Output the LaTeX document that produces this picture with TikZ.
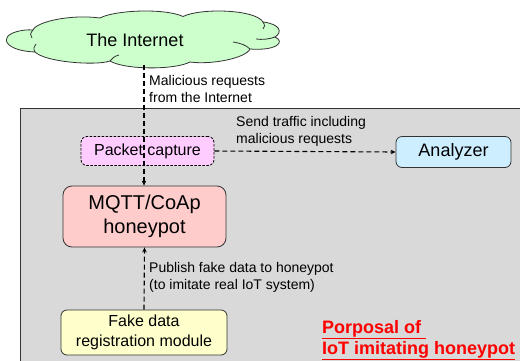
\documentclass[tikz,border=0pt]{standalone}
\usepackage{fontspec}
\setmainfont{Liberation Sans}
\usetikzlibrary{arrows.meta}
\definecolor{cloudgreen}{HTML}{CCFFCC}
\definecolor{areagray}{HTML}{D9D9D9}
\definecolor{capturepink}{HTML}{FFCCFF}
\definecolor{potpink}{HTML}{FFCCCC}
\definecolor{analyzerblue}{HTML}{CCEEFF}
\definecolor{fakeyellow}{HTML}{FFFFCC}
\tikzset{
  box/.style={draw=black!80, line width=0.8pt, rounded corners=6pt, align=center, inner sep=0pt},
  flow/.style={draw=black, line width=1.1pt, dash pattern=on 5pt off 3pt, -{Stealth[length=5pt,width=4.5pt]}},
  note/.style={anchor=west, align=left, font=\fontsize{14}{17}\selectfont, inner sep=0pt},
  cloudline/.style={draw=black!80, line width=0.8pt},
}
\begin{document}
\begin{tikzpicture}[x=1pt,y=-1pt]
\useasboundingbox (0,0) rectangle (520,360);
% proposal area
\draw[fill=areagray, draw=black!80, line width=0.9pt] (20,108) rectangle (530,370);
% internet cloud outline, lobe by lobe
\draw[cloudline, fill=cloudgreen]
  (7,38) .. controls (8,33) and (22,29) .. (33,30)
  .. controls (36,22) and (70,14) .. (100,18)
  .. controls (115,10) and (165,8) .. (183,16.5)
  .. controls (200,8) and (255,9) .. (263,22)
  .. controls (280,24) and (283,32) .. (275,37)
  .. controls (286,42) and (276,51) .. (250,49)
  .. controls (246,58) and (212,65) .. (190,62)
  .. controls (175,70) and (125,70) .. (110,61)
  .. controls (95,66) and (45,62) .. (35,52)
  .. controls (12,51) and (4,43) .. (7,38) -- cycle;
% small creases where the lobes meet
\draw[cloudline] (33,30) .. controls (30,33) and (30,36) .. (32,38);
\draw[cloudline] (35,52) .. controls (33,49) and (34,46) .. (36,44);
\draw[cloudline] (263,22) .. controls (265,25) and (265,27) .. (263,29);
\draw[cloudline] (275,37) .. controls (270,39) and (262,40) .. (256,39);
\draw[cloudline] (250,49) .. controls (246,45) and (240,43) .. (233,42);
\draw[cloudline] (110,61) .. controls (112,58) and (115,56) .. (119,55);
\coordinate (netbase) at (144,64.5);
\node[font=\fontsize{18}{21}\selectfont, inner sep=0pt] (net) at (135,40) {The Internet};
% components
\node[box, draw=black, fill=capturepink, dash pattern=on 2.5pt off 1.5pt, minimum width=133pt, minimum height=29pt,
      font=\fontsize{16}{19}\selectfont] (cap) at (147.5,151) {Packet capture};
\node[box, fill=analyzerblue, minimum width=115pt, minimum height=31pt,
      font=\fontsize{18}{21}\selectfont] (ana) at (453.5,152) {Analyzer};
\node[box, fill=potpink, rounded corners=9pt, minimum width=163pt, minimum height=61pt,
      font=\fontsize{20}{23.5}\selectfont] (pot) at (144.5,216.5) {MQTT/CoAp\\honeypot};
\node[box, fill=fakeyellow, minimum width=166pt, minimum height=45pt,
      font=\fontsize{16}{19.5}\selectfont] (fake) at (144,332.5) {Fake data\\registration module};
% flows
\draw[flow] (netbase) -- (netbase |- pot.north);
\draw[flow] (cap.east) -- (ana.west);
\draw[flow] (fake.north) -- (pot.south);
% flow labels
\node[note] (l1) at (149,89) {Malicious requests\\from the Internet};
\node[note] (l2) at (236,131.5) {Send traffic including\\malicious requests};
\node[note] (l3) at (149,277) {Publish fake data to honeypot\\(to imitate real IoT system)};
% title
\node[anchor=west, inner sep=0pt, text=red, font=\bfseries\fontsize{18}{21}\selectfont, align=left] (title) at (322,340)
  {\underline{Porposal of\ }\\\underline{IoT imitating honeypot}};
\end{tikzpicture}
\end{document}
